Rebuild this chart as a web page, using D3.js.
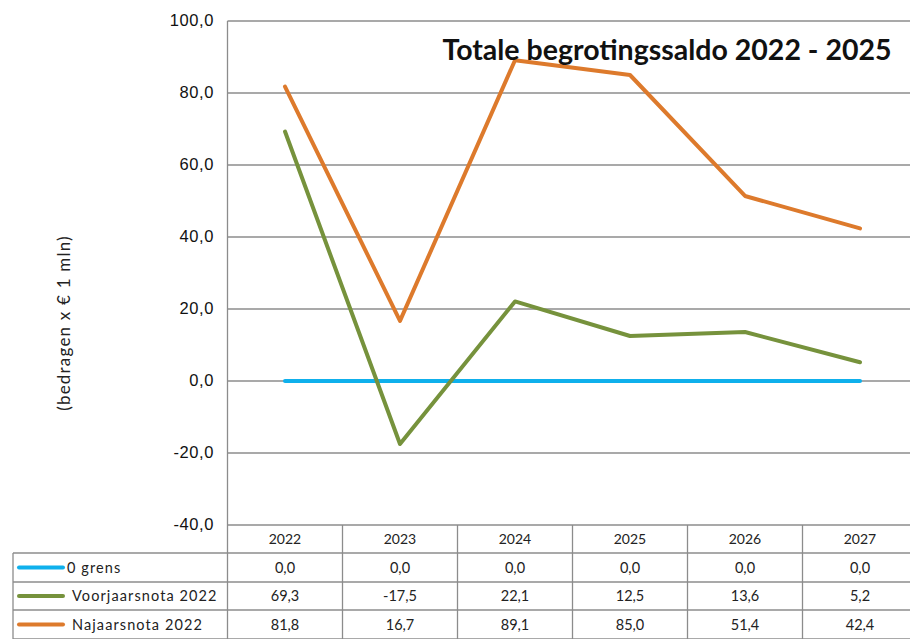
<!DOCTYPE html>
<html>
<head>
<meta charset="utf-8">
<script src="https://cdn.jsdelivr.net/npm/d3@7"></script>
<style>
  body { margin: 0; background: #fff; }
</style>
</head>
<body>
<div class="chart"></div>
<script>
// chart data
const years = ["2022", "2023", "2024", "2025", "2026", "2027"];
const nulGrens = [0.0, 0.0, 0.0, 0.0, 0.0, 0.0];
const voorjaarsnota = [69.3, -17.5, 22.1, 12.5, 13.6, 5.2];
const najaarsnota = [81.8, 16.7, 89.1, 85.0, 51.4, 42.4];
const seriesNames = ["0 grens", "Voorjaarsnota 2022", "Najaarsnota 2022"];
const yTicks = [-40, -20, 0, 20, 40, 60, 80, 100];

const series = [
  { name: seriesNames[0], values: nulGrens, color: "#0fb0ec" },
  { name: seriesNames[1], values: voorjaarsnota, color: "#76923c" },
  { name: seriesNames[2], values: najaarsnota, color: "#dd7a2c" }
];

const width = 910,
  height = 639;
const plot = { left: 227.5, right: 917.5, top: 21, bottom: 525 };
const rowH = [28, 29, 28, 29];
const tableLeft = 13;
const fmt = v => v.toFixed(1).replace(".", ",");

const svg = d3
  .select(".chart")
  .append("svg")
  .attr("width", width)
  .attr("height", height);

const x = d3.scaleBand().domain(years).range([plot.left, plot.right]);
const y = d3.scaleLinear().domain([-40, 100]).range([plot.bottom, plot.top]);

// gridlines
svg
  .append("g")
  .selectAll("line")
  .data(yTicks)
  .enter()
  .append("line")
  .attr("x1", plot.left)
  .attr("x2", plot.right)
  .attr("y1", d => y(d))
  .attr("y2", d => y(d))
  .attr("stroke", "#8c8c8c")
  .attr("stroke-width", 1.3);

// y tick labels
svg
  .append("g")
  .selectAll("text")
  .data(yTicks)
  .enter()
  .append("text")
  .attr("x", 214)
  .attr("y", d => y(d) + 5)
  .attr("text-anchor", "end")
  .style("font-family", "Liberation Sans, Arial, sans-serif")
  .style("font-size", "16.5px")
  .style("letter-spacing", "0.6px")
  .attr("fill", "#111")
  .text(fmt);

// y axis title
svg
  .append("text")
  .attr("transform", "translate(70," + 323 + ") rotate(-90)")
  .attr("text-anchor", "middle")
  .style("font-family", "Lato, sans-serif")
  .style("font-size", "17px")
  .style("letter-spacing", "1.2px")
  .attr("fill", "#222")
  .text("(bedragen x € 1 mln)");

// table grid
const rowTops = [plot.bottom];
rowH.forEach((h, i) => rowTops.push(rowTops[i] + h));
const tbl = svg.append("g").attr("stroke", "#8c8c8c").attr("stroke-width", 1.3);

tbl
  .selectAll(".hrow")
  .data(rowTops.slice(1))
  .enter()
  .append("line")
  .attr("x1", tableLeft)
  .attr("x2", plot.right)
  .attr("y1", d => d)
  .attr("y2", d => d);

tbl
  .append("line")
  .attr("x1", tableLeft)
  .attr("x2", tableLeft)
  .attr("y1", rowTops[1])
  .attr("y2", height);

tbl
  .selectAll(".vcol")
  .data(years.concat(["end"]))
  .enter()
  .append("line")
  .attr("x1", (d, i) => plot.left + i * x.bandwidth())
  .attr("x2", (d, i) => plot.left + i * x.bandwidth())
  .attr("y1", (d, i) => (i === 0 ? plot.top : plot.bottom))
  .attr("y2", height);

// header years
svg
  .append("g")
  .selectAll("text")
  .data(years)
  .enter()
  .append("text")
  .attr("x", d => x(d) + x.bandwidth() / 2)
  .attr("y", rowTops[0] + rowH[0] / 2 + 5)
  .attr("text-anchor", "middle")
  .style("font-family", "Lato, sans-serif")
  .style("font-size", "14px")
  .attr("fill", "#222")
  .text(d => d);

// table rows
const rows = svg
  .selectAll(".row")
  .data(series)
  .enter()
  .append("g")
  .attr("class", "row")
  .attr("transform", (d, i) => "translate(0," + (rowTops[i + 1] + rowH[i + 1] / 2) + ")");

rows
  .append("line")
  .attr("x1", 19)
  .attr("x2", 63)
  .attr("stroke", d => d.color)
  .attr("stroke-width", 4)
  .attr("stroke-linecap", "round");

rows
  .append("text")
  .attr("x", d => (d.name === "0 grens" ? 67 : 72))
  .attr("y", 5)
  .style("font-family", "Lato, sans-serif")
  .style("font-size", "14.5px")
  .style("letter-spacing", "1.1px")
  .attr("fill", "#222")
  .text(d => d.name);

rows
  .selectAll(".val")
  .data(d => d.values)
  .enter()
  .append("text")
  .attr("x", (v, i) => x(years[i]) + x.bandwidth() / 2)
  .attr("y", 5)
  .attr("text-anchor", "middle")
  .style("font-family", "Lato, sans-serif")
  .style("font-size", "14.5px")
  .attr("fill", "#222")
  .text(fmt);

// lines
const line = d3
  .line()
  .x((v, i) => x(years[i]) + x.bandwidth() / 2)
  .y(v => y(v));

svg
  .append("g")
  .selectAll("path")
  .data(series)
  .enter()
  .append("path")
  .attr("d", d => line(d.values))
  .attr("fill", "none")
  .attr("stroke", d => d.color)
  .attr("stroke-width", 4)
  .attr("stroke-linejoin", "round")
  .attr("stroke-linecap", "round");

// title
svg
  .append("text")
  .attr("x", 667)
  .attr("y", 60)
  .attr("text-anchor", "middle")
  .style("font-family", "Lato, sans-serif")
  .style("font-weight", "bold")
  .style("font-size", "28.5px")
  .attr("fill", "#111")
  .text("Totale begrotingssaldo 2022 - 2025");
</script>
</body>
</html>
